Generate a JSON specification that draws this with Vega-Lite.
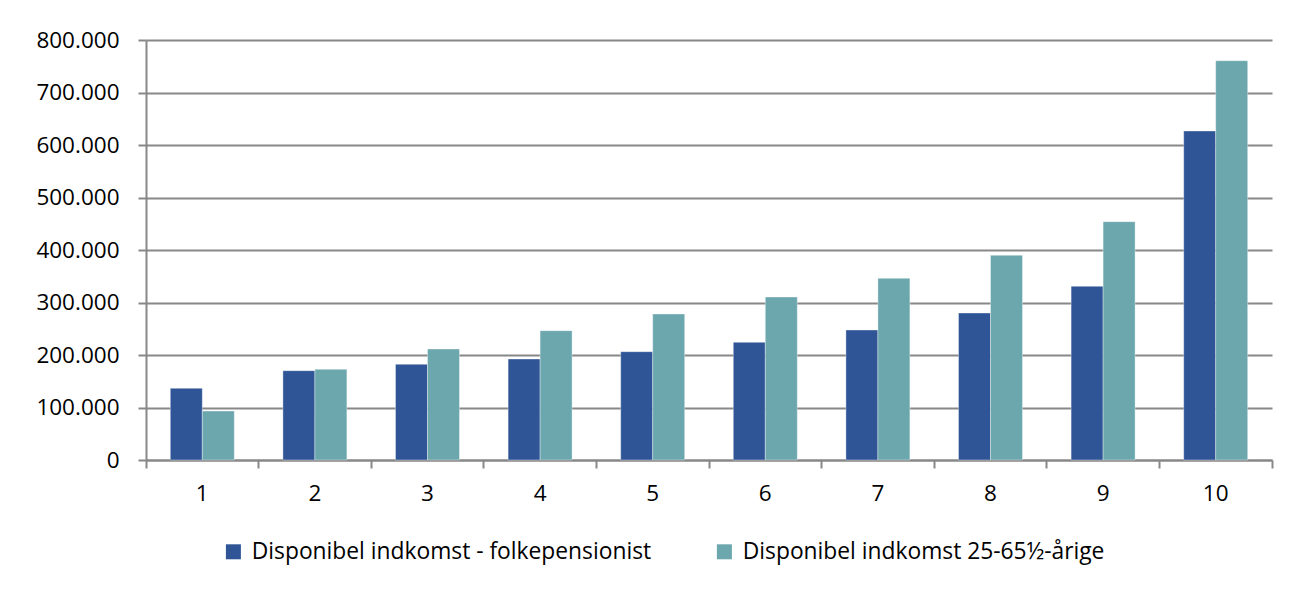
{
  "$schema": "https://vega.github.io/schema/vega-lite/v6.json",
  "autosize": "none",
  "width": 1126,
  "height": 420,
  "padding": {"left": 146, "top": 40, "right": 18, "bottom": 133},
  "background": "#ffffff",
  "config": {
    "locale": {"number": {"decimal": ",", "thousands": ".", "grouping": [3], "currency": ["", " kr."]}},
    "view": {"stroke": null},
    "font": "Open Sans",
    "axis": {"labelFont": "Open Sans", "labelColor": "#000000", "labelFontSize": 22.5, "domainColor": "#888888", "tickColor": "#888888", "gridColor": "#888888", "domainWidth": 2, "tickWidth": 2, "gridWidth": 2}
  },
  "data": {"values": [
    {"decil": "1", "serie": "Disponibel indkomst - folkepensionist", "v": 136500},
    {"decil": "1", "serie": "Disponibel indkomst 25-65½-årige", "v": 93300},
    {"decil": "2", "serie": "Disponibel indkomst - folkepensionist", "v": 170100},
    {"decil": "2", "serie": "Disponibel indkomst 25-65½-årige", "v": 172700},
    {"decil": "3", "serie": "Disponibel indkomst - folkepensionist", "v": 182300},
    {"decil": "3", "serie": "Disponibel indkomst 25-65½-årige", "v": 211400},
    {"decil": "4", "serie": "Disponibel indkomst - folkepensionist", "v": 192400},
    {"decil": "4", "serie": "Disponibel indkomst 25-65½-årige", "v": 246300},
    {"decil": "5", "serie": "Disponibel indkomst - folkepensionist", "v": 206300},
    {"decil": "5", "serie": "Disponibel indkomst 25-65½-årige", "v": 278100},
    {"decil": "6", "serie": "Disponibel indkomst - folkepensionist", "v": 224100},
    {"decil": "6", "serie": "Disponibel indkomst 25-65½-årige", "v": 310500},
    {"decil": "7", "serie": "Disponibel indkomst - folkepensionist", "v": 247600},
    {"decil": "7", "serie": "Disponibel indkomst 25-65½-årige", "v": 346000},
    {"decil": "8", "serie": "Disponibel indkomst - folkepensionist", "v": 280000},
    {"decil": "8", "serie": "Disponibel indkomst 25-65½-årige", "v": 389900},
    {"decil": "9", "serie": "Disponibel indkomst - folkepensionist", "v": 330800},
    {"decil": "9", "serie": "Disponibel indkomst 25-65½-årige", "v": 454000},
    {"decil": "10", "serie": "Disponibel indkomst - folkepensionist", "v": 626700},
    {"decil": "10", "serie": "Disponibel indkomst 25-65½-årige", "v": 760600}
  ]},
  "mark": {"type": "bar", "stroke": "#ffffff", "strokeWidth": 0.6, "strokeOpacity": 0.6},
  "encoding": {
    "x": {
      "field": "decil", "type": "ordinal", "sort": ["1","2","3","4","5","6","7","8","9","10"],
      "scale": {"paddingInner": 0, "paddingOuter": 0},
      "axis": {"title": null, "labelAngle": 0, "bandPosition": 1, "tickExtra": true, "labelOffset": 0, "tickSize": 8, "labelPadding": 14, "grid": false}
    },
    "xOffset": {
      "field": "serie", "type": "nominal",
      "scale": {"paddingInner": 0, "paddingOuter": 0.76}
    },
    "y": {
      "field": "v", "type": "quantitative",
      "scale": {"domain": [0, 800000], "nice": false},
      "axis": {"title": null, "values": [0,100000,200000,300000,400000,500000,600000,700000,800000], "format": ",d", "tickSize": 8, "labelPadding": 19, "grid": true}
    },
    "color": {
      "field": "serie", "type": "nominal",
      "scale": {"domain": ["Disponibel indkomst - folkepensionist", "Disponibel indkomst 25-65½-årige"], "range": ["#2F5597", "#6CA7AE"]},
      "legend": {"title": null, "orient": "none", "legendX": 76, "legendY": 500, "direction": "horizontal", "symbolType": "square", "symbolSize": 225, "symbolStrokeWidth": 0, "labelFontSize": 22.8, "labelFont": "Open Sans", "labelColor": "#000000", "labelOffset": 7, "columnPadding": 61, "labelLimit": 600}
    }
  }
}
